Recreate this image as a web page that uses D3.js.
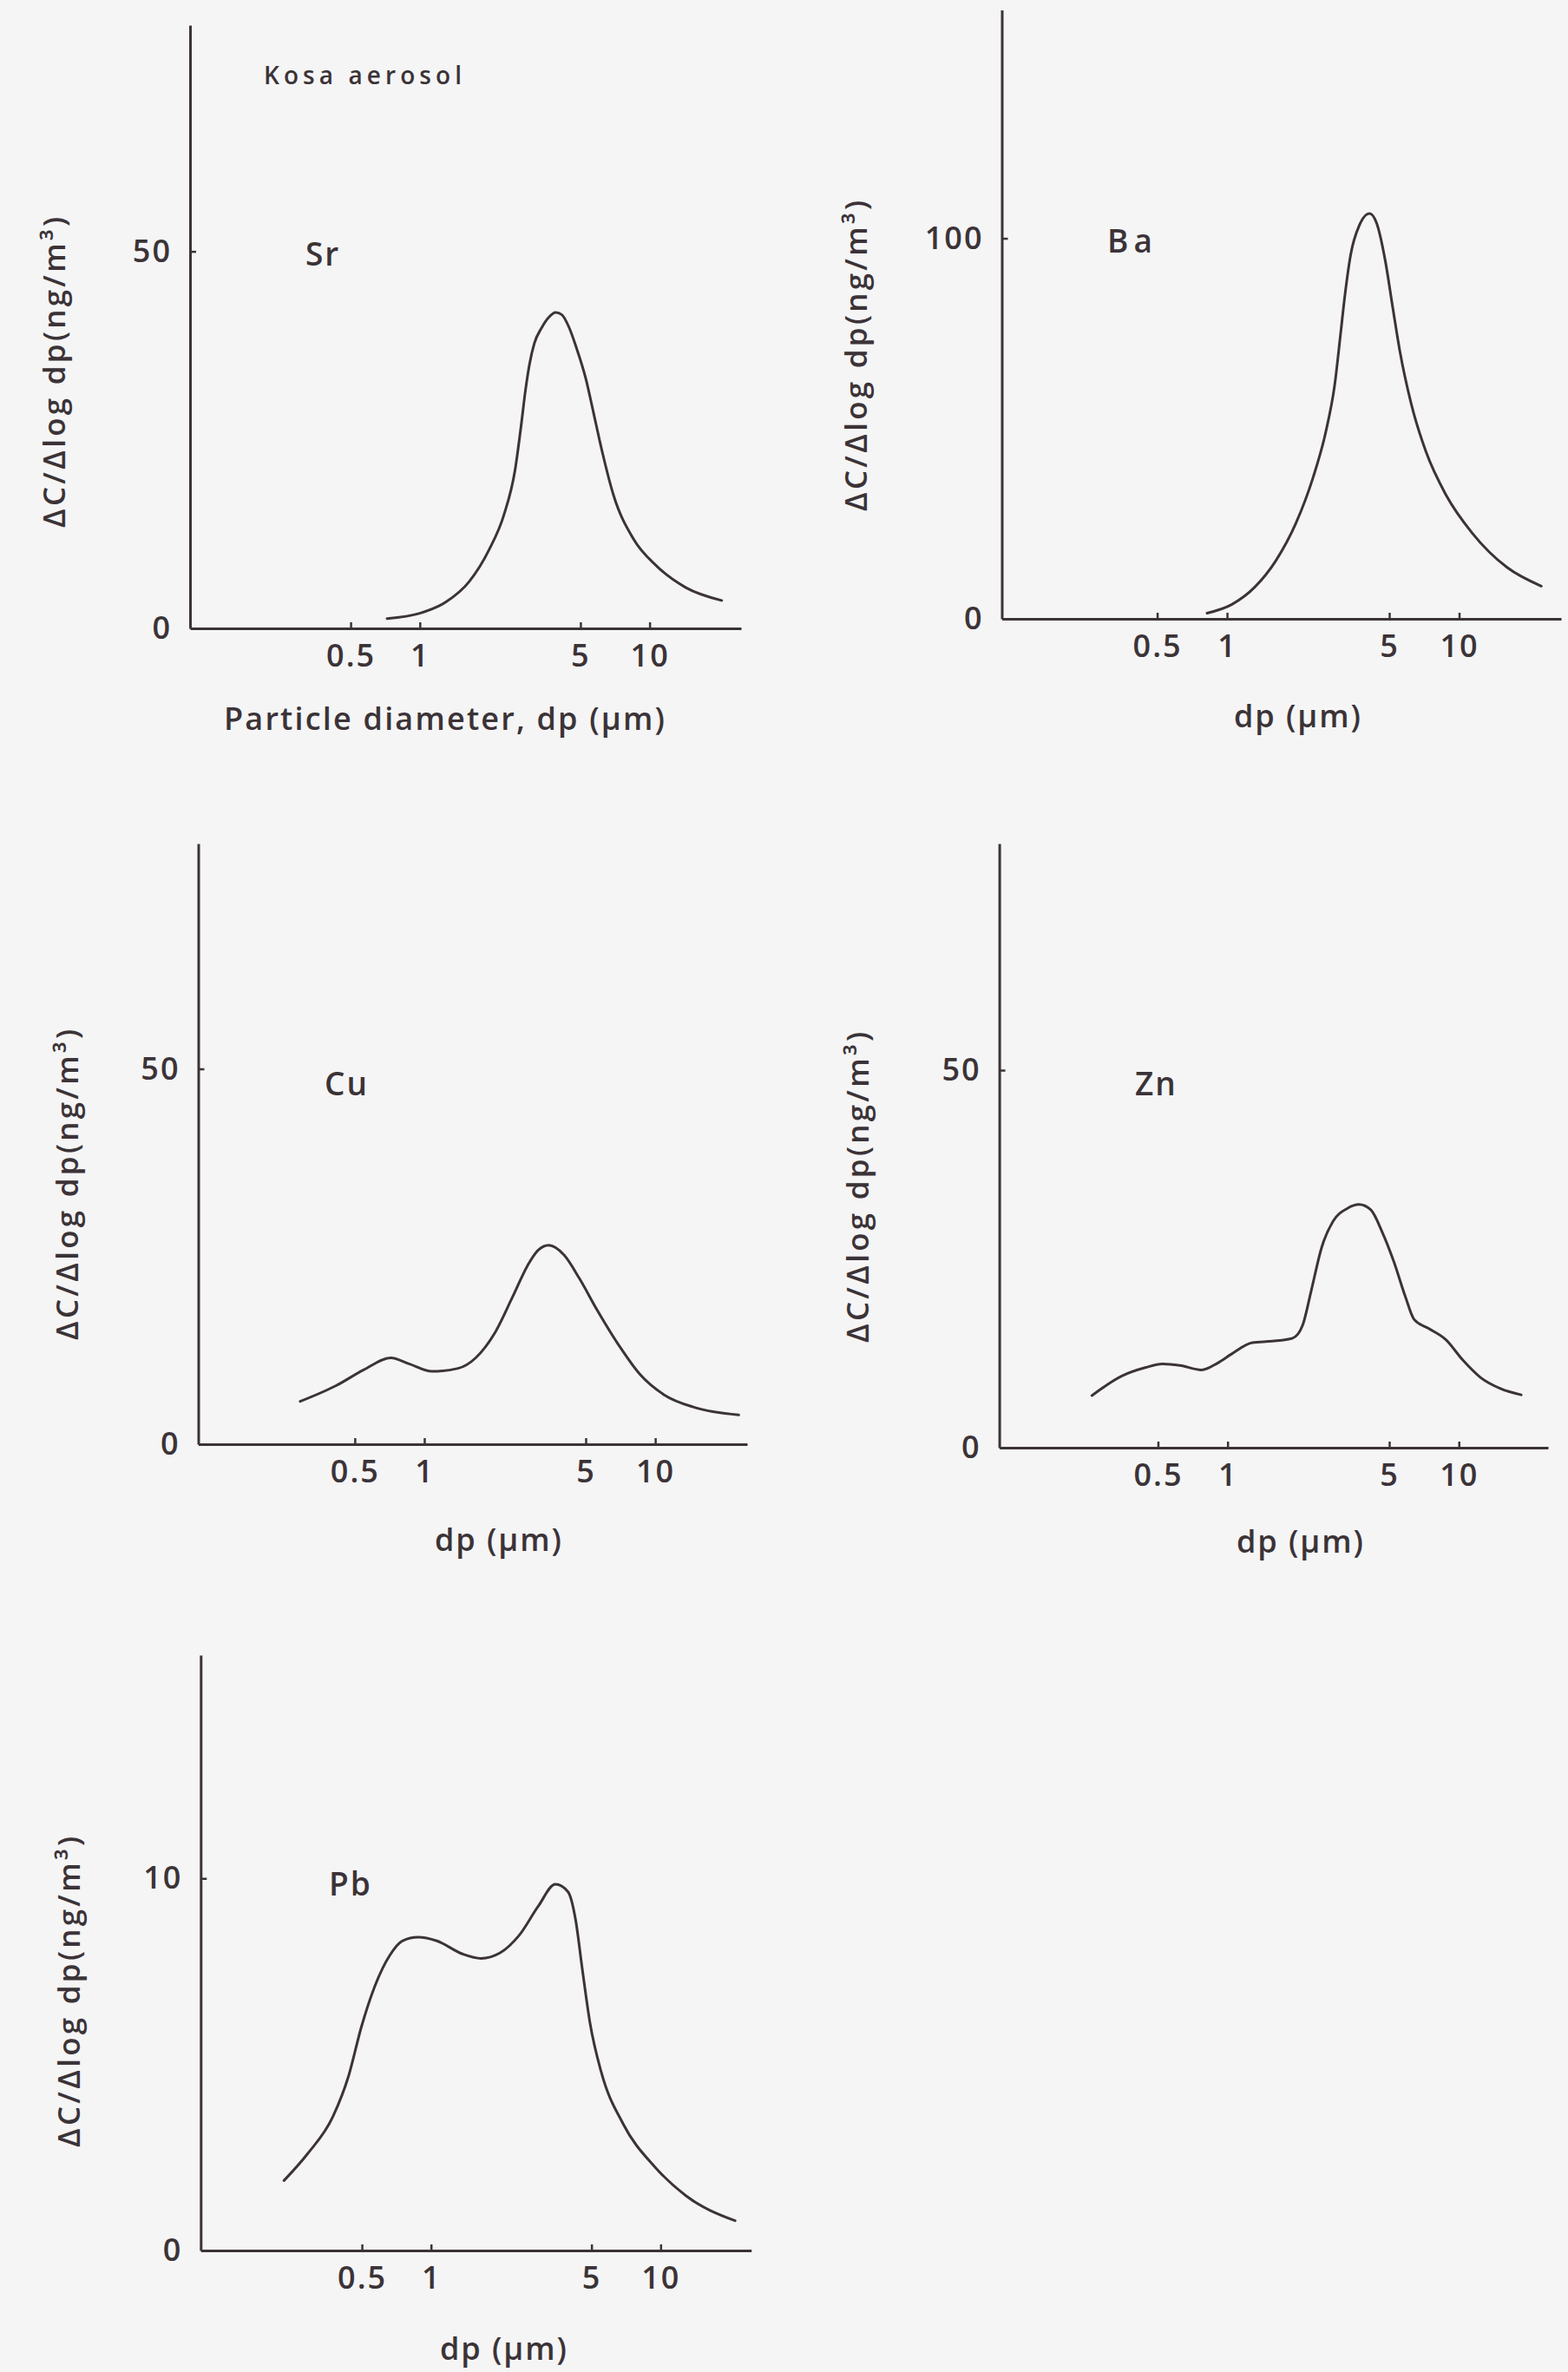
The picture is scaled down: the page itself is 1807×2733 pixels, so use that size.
<!DOCTYPE html>
<html><head><meta charset="utf-8">
<script src="https://cdn.jsdelivr.net/npm/d3@7"></script>
<style>
html,body{margin:0;padding:0;background:#f5f5f6;}
svg{display:block;}
text{font-family:"Open Sans","DejaVu Sans",sans-serif;font-weight:600;fill:#3b3337;}
</style></head><body>
<svg id="chart" width="1807" height="2733"></svg>
<script>
// ---------- data ----------
const elements = ["Sr", "Ba", "Cu", "Zn", "Pb"];
const xTickValues = [0.5, 1, 5, 10];
const xTickLabels = ["0.5", "1", "5", "10"];
const yMaxima = [80, 160, 80, 80, 16];
const srYTicks = [0, 50];
const baYTicks = [0, 100];
const cuYTicks = [0, 50];
const znYTicks = [0, 50];
const pbYTicks = [0, 10];

const srDp = [0.72, 1.0, 1.3, 1.64, 2.0, 2.32, 2.6, 2.76, 2.88, 3.0, 3.15, 3.38, 3.65, 3.9, 4.15, 4.45, 4.78, 5.29, 5.69, 6.2, 6.96, 8.53, 10.7, 14.4, 20.6];
const srC  = [1.3, 2.0, 3.5, 6.2, 10.4, 15.0, 21.1, 26.9, 31.5, 35.0, 37.8, 39.8, 41.3, 41.9, 41.6, 40.0, 37.4, 33.0, 28.7, 23.6, 17.7, 11.8, 8.3, 5.4, 3.7];

const baDp = [0.82, 1.05, 1.32, 1.62, 1.98, 2.35, 2.67, 2.91, 3.08, 3.22, 3.41, 3.71, 4.11, 4.41, 4.81, 5.17, 5.55, 6.22, 7.19, 8.79, 11.4, 16.1, 22.6];
const baC  = [1.5, 3.8, 8.4, 15.2, 25.1, 37.2, 49.4, 61.5, 74.5, 85.0, 95.7, 103.3, 106.5, 104.0, 94.0, 82.0, 70.5, 56.5, 44.0, 32.5, 22.5, 13.5, 8.6];

const cuDp = [0.29, 0.415, 0.546, 0.716, 0.859, 1.08, 1.40, 1.67, 2.01, 2.41, 2.80, 3.1, 3.46, 4.03, 4.69, 5.62, 6.95, 8.59, 10.9, 14.8, 23.0];
const cuC  = [5.7, 7.8, 9.9, 11.5, 10.7, 9.7, 10.1, 11.5, 14.7, 19.6, 23.8, 25.8, 26.5, 25.2, 22.1, 17.8, 13.2, 9.3, 6.6, 4.9, 3.9];

const znDp = [0.259, 0.349, 0.44, 0.523, 0.622, 0.771, 0.904, 1.04, 1.28, 1.56, 1.91, 2.11, 2.30, 2.55, 2.86, 3.30, 3.70, 4.16, 4.67, 5.24, 5.87, 6.40, 7.39, 8.79, 10.4, 12.4, 15.2, 18.6];
const znC  = [6.9, 9.5, 10.6, 11.1, 10.9, 10.3, 11.2, 12.4, 13.9, 14.1, 14.5, 16.2, 20.8, 26.5, 30.0, 31.7, 32.2, 31.5, 28.5, 24.6, 20.0, 17.0, 15.8, 14.3, 11.6, 9.3, 7.8, 7.0];

const pbDp = [0.229, 0.290, 0.374, 0.438, 0.497, 0.565, 0.661, 0.750, 0.879, 1.06, 1.37, 1.65, 2.0, 2.42, 2.93, 3.48, 3.95, 4.27, 4.55, 4.93, 5.51, 6.87, 9.42, 12.9, 21.1];
const pbC  = [1.88, 2.6, 3.6, 4.7, 6.0, 7.05, 7.93, 8.32, 8.42, 8.32, 7.97, 7.85, 8.0, 8.47, 9.25, 9.84, 9.64, 8.86, 7.6, 6.1, 4.8, 3.4, 2.25, 1.47, 0.8];

const dpSeries = [srDp, baDp, cuDp, znDp, pbDp];
const cSeries = [srC, baC, cuC, znC, pbC];
const yTickSets = [srYTicks, baYTicks, cuYTicks, znYTicks, pbYTicks];
const xTitles = ["Particle diameter, dp (\u00b5m)", "dp (\u00b5m)", "dp (\u00b5m)", "dp (\u00b5m)", "dp (\u00b5m)"];
const yTitle = "\u0394C/\u0394log dp(ng/m\u00b3)";
const noteText = "Kosa aerosol";

// ---------- layout (pixels) ----------
const layout = [
  {left:219,   right:854,   zero:724,  top:29,   xmin:0.1,    xmax:25,   label:[352,291],   yt:[61,429],   xt:[512,827],  xtLen:508},
  {left:1154.5,right:1799,  zero:713,  top:11.5, xmin:0.107,  xmax:27.5, label:[1276,276],  yt:[985,410],  xt:[1495,824], xtLen:146},
  {left:228.5, right:861,   zero:1664, top:972,  xmin:0.105,  xmax:25,   label:[374,1247],  yt:[76,1365],  xt:[574,1773], xtLen:146},
  {left:1151.6,right:1784,  zero:1668, top:972,  xmin:0.103,  xmax:24.3, label:[1308,1247], yt:[987,1368], xt:[1498,1775],xtLen:146},
  {left:231.3, right:865.7, zero:2593, top:1907, xmin:0.0993, xmax:24.8, label:[379,2169],  yt:[78,2295],  xt:[580,2705], xtLen:146}
];
const ink = "#3b3337";
const font = "'Open Sans','DejaVu Sans',sans-serif";

const svg = d3.select("#chart");
svg.append("rect").attr("width",1807).attr("height",2733).attr("fill","#f5f5f6");

elements.forEach((el, i) => {
  const L = layout[i];
  const x = d3.scaleLog().domain([L.xmin, L.xmax]).range([L.left, L.right]);
  const y = d3.scaleLinear().domain([0, yMaxima[i]]).range([L.zero, L.top]);
  const g = svg.append("g");

  const xa = g.append("g").attr("transform", `translate(0,${L.zero})`)
    .call(d3.axisBottom(x).tickValues(xTickValues)
      .tickFormat((d, k) => xTickLabels[k])
      .tickSizeInner(-7).tickSizeOuter(0).tickPadding(18));
  const ya = g.append("g").attr("transform", `translate(${L.left},0)`)
    .call(d3.axisLeft(y).tickValues(yTickSets[i]).tickFormat(d3.format("d"))
      .tickSizeInner(-7).tickSizeOuter(0).tickPadding(21));
  [xa, ya].forEach(a => {
    a.select(".domain").attr("stroke", ink).attr("stroke-width", 3);
    a.selectAll(".tick line").attr("stroke", ink).attr("stroke-width", 2.5);
    a.selectAll(".tick text").attr("fill", ink).attr("font-size", 36)
      .attr("font-family", font).attr("font-weight", 600).attr("letter-spacing", 2);
  });
  ya.selectAll(".tick").filter(d => d === 0).select("line").remove();

  const pts = dpSeries[i].map((d, k) => [d, cSeries[i][k]]);
  g.append("path").datum(pts)
    .attr("fill", "none").attr("stroke", ink).attr("stroke-width", 3)
    .attr("stroke-linejoin", "round").attr("stroke-linecap", "round")
    .attr("d", d3.line().x(d => x(d[0])).y(d => y(d[1])).curve(d3.curveMonotoneX));

  g.append("text").attr("x", L.label[0]).attr("y", L.label[1])
    .attr("dominant-baseline", "central").attr("font-size", 37)
    .attr("letter-spacing", el === "Ba" ? 6 : 2).text(el);

  g.append("text").attr("x", L.xt[0]).attr("y", L.xt[1])
    .attr("text-anchor", "middle").attr("dominant-baseline", "central")
    .attr("font-size", 36).attr("textLength", L.xtLen).attr("lengthAdjust", "spacing")
    .text(xTitles[i]);
  g.append("text")
    .attr("transform", `translate(${L.yt[0]},${L.yt[1]}) rotate(-90)`)
    .attr("text-anchor", "middle").attr("dominant-baseline", "central")
    .attr("font-size", 35).attr("textLength", 358).attr("lengthAdjust", "spacing")
    .text(yTitle);
});

svg.append("text").attr("x", 304).attr("y", 86)
  .attr("dominant-baseline", "central").attr("font-size", 28)
  .attr("textLength", 228).attr("lengthAdjust", "spacing").text(noteText);
</script>
</body></html>
